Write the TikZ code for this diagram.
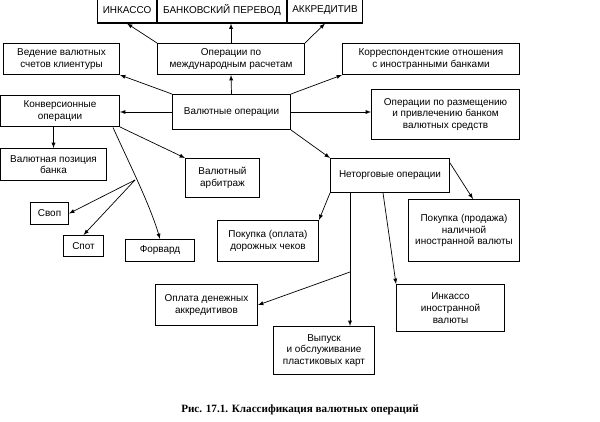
\documentclass[tikz,border=0pt]{standalone}
\usepackage{fontspec}
\setmainfont{Liberation Sans}
\newfontfamily\capfont{Liberation Serif}
\begin{document}
\begin{tikzpicture}[x=0.03cm,y=-0.03cm,
  bx/.style={draw,line width=0.9pt,align=center,font=\fontsize{8.5}{10}\selectfont,inner sep=0pt},
  ar/.style={-latex,line width=0.6pt}]
\useasboundingbox (0,0) rectangle (600,421);
\newcommand{\bxat}[6]{\node[bx,minimum width=#4*0.03cm-0.9pt,minimum height=#5*0.03cm-0.9pt] (#1) at (#2,#3) {#6};}
% top row
\bxat{ink}{127}{10}{60}{27}{ИНКАССО}
\bxat{per}{222}{10}{130}{27}{БАНКОВСКИЙ ПЕРЕВОД}
\bxat{akk}{325}{10}{76}{27}{АККРЕДИТИВ}
\bxat{mezh}{231}{59}{148}{32}{Операции по\\международным расчетам}
\bxat{ved}{61.5}{59}{117}{32}{Ведение валютных\\счетов клиентуры}
\bxat{kor}{431}{59}{178}{32}{Корреспондентские отношения\\с иностранными банками}
\bxat{val}{231.5}{112}{119}{36}{Валютные операции}
\bxat{konv}{60}{111}{120}{32}{Конверсионные\\операции}
\bxat{raz}{445.5}{114.5}{149}{51}{Операции по размещению\\и привлечению банком\\валютных средств}
\bxat{poz}{53.5}{164.5}{107}{33}{Валютная позиция\\банка}
\bxat{arb}{222.5}{178}{75}{40}{Валютный\\арбитраж}
\bxat{net}{390}{175.5}{120}{35}{Неторговые операции}
\bxat{svop}{49.5}{213.5}{39}{23}{Своп}
\bxat{spot}{83.5}{246}{41}{22}{Спот}
\bxat{forv}{160}{250.5}{70}{23}{Форвард}
\bxat{cheki}{268}{241}{102}{42}{Покупка (оплата)\\дорожных чеков}
\bxat{nal}{464}{230.5}{112}{63}{Покупка (продажа)\\наличной\\иностранной валюты}
\bxat{opl}{206.5}{305}{103}{42}{Оплата денежных\\аккредитивов}
\bxat{inkv}{450.5}{308}{109}{48}{Инкассо\\иностранной\\валюты}
\bxat{vyp}{324}{350.5}{102}{49}{Выпуск\\и обслуживание\\пластиковых карт}
\node[font=\capfont\bfseries\fontsize{9.5}{11}\selectfont] (cap) at (300,410) {Рис. 17.1. Классификация валютных операций};
% arrows
\draw[ar] (mezh.north west) -- (ink.south);
\draw[ar] (mezh.north) -- (mezh.north |- per.south);
\draw[ar] (mezh.north east) -- (akk.south);
\draw[ar] (val.north) -- (mezh.south);
\draw[ar] (val.north west) -- (ved.south east);
\draw[ar] (val.north east) -- (kor.south west);
\draw[ar] (val.east) -- (val.east -| raz.west);
\draw[ar] (val.west) -- (val.west -| konv.east);
\draw[ar] (val.south east) -- (net.north west);
\draw[ar] (konv.south -| poz.north) -- (poz.north);
\draw[ar] (konv.south east) -- (arb.north west);
\coordinate (ks) at (113,127.5);
\coordinate (br) at (135,180);
\draw[ar] (ks) .. controls (130,165) and (150,205) .. (forv.north);
\draw[ar] (br) -- (svop.east);
\draw[ar] (br) -- (spot.north);
\coordinate (ne) at (450,163);
\coordinate (nt) at (473,199);
\draw[ar] (ne) -- (nt);
\draw[ar] (net.south west) -- (cheki.north east);
\coordinate (nv) at (350,193);
\coordinate (nb) at (350,272);
\draw[ar] (nv) -- (vyp.north -| nv);
\draw[ar] (nb) -- (opl.east);
\coordinate (ni) at (383,193);
\draw[ar] (ni) -- (inkv.north west);
\end{tikzpicture}
\end{document}
